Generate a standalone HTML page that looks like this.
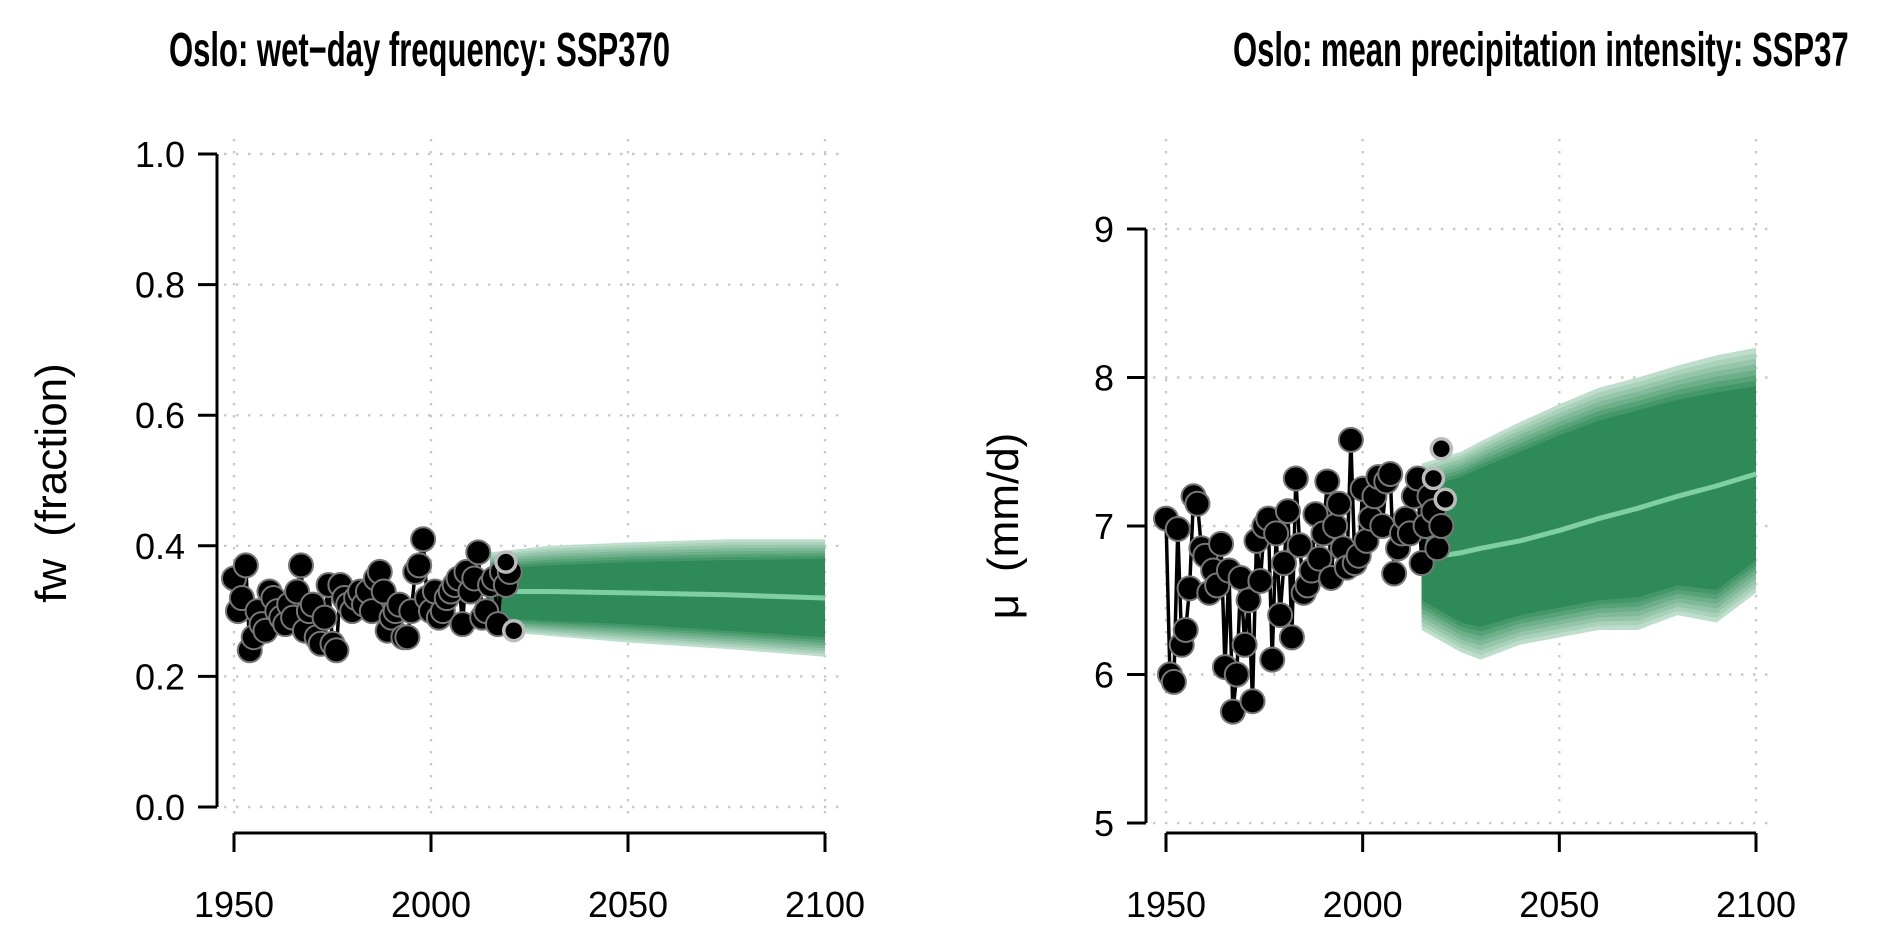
<!DOCTYPE html>
<html><head><meta charset="utf-8"><style>
html,body{margin:0;padding:0;background:#fff;overflow:hidden}
svg text{font-family:"Liberation Sans",Arial,sans-serif}
</style></head><body>
<svg id="c" width="1892" height="933" viewBox="0 0 1892 933" xmlns="http://www.w3.org/2000/svg">
<text id="t1" x="169" y="66" font-size="48" font-weight="bold">Oslo: wet−day frequency: SSP370</text>
<text id="t2" x="1233" y="66" font-size="48" font-weight="bold">Oslo: mean precipitation intensity: SSP37</text>
<g id="left"></g>
<g id="right"></g>
</svg>
<script>
const obsYears=[];for(let y=1950;y<=2020;y++)obsYears.push(y);
const fwObs=[0.35,0.30,0.32,0.37,0.24,0.26,0.30,0.28,0.27,0.33,0.32,0.30,0.29,0.28,0.31,0.29,0.33,0.37,0.27,0.30,0.31,0.26,0.25,0.29,0.34,0.25,0.24,0.34,0.32,0.31,0.30,0.32,0.33,0.31,0.33,0.30,0.35,0.36,0.33,0.27,0.29,0.30,0.31,0.26,0.26,0.30,0.36,0.37,0.41,0.32,0.30,0.33,0.29,0.30,0.32,0.33,0.34,0.35,0.28,0.36,0.33,0.35,0.39,0.29,0.30,0.34,0.35,0.28,0.36,0.34,0.36];
const fwHiYears=[2019,2021];
const fwHiVals=[0.375,0.27];
const muObs=[7.05,6.0,5.95,6.98,6.2,6.3,6.58,7.2,7.15,6.85,6.8,6.55,6.7,6.6,6.88,6.05,6.7,5.75,6.0,6.65,6.2,6.5,5.82,6.9,6.63,7.0,7.05,6.1,6.95,6.4,6.75,7.1,6.25,7.32,6.87,6.55,6.6,6.7,7.08,6.78,6.95,7.3,6.65,7.0,7.15,6.85,6.72,7.58,6.75,6.8,7.25,6.9,7.05,7.2,7.33,7.0,7.3,7.35,6.68,6.85,6.95,7.05,6.95,7.2,7.32,6.75,7.0,7.2,7.1,6.85,7.0];
const muHiYears=[2018,2020,2021];
const muHiVals=[7.32,7.52,7.18];
const fwProjYears=[2015,2030,2050,2075,2100];
const fwOuterLo=[0.27,0.262,0.252,0.242,0.23];
const fwOuterHi=[0.39,0.40,0.405,0.41,0.41];
const fwInnerLo=[0.29,0.285,0.28,0.27,0.26];
const fwInnerHi=[0.365,0.37,0.375,0.378,0.38];
const fwMedian=[0.33,0.33,0.328,0.325,0.32];
const muProjYears=[2015,2025,2030,2040,2050,2060,2070,2080,2090,2100];
const muOuterLo=[6.3,6.15,6.1,6.2,6.25,6.3,6.3,6.4,6.35,6.55];
const muOuterHi=[7.42,7.5,7.57,7.7,7.82,7.93,8.0,8.08,8.15,8.2];
const muInnerLo=[6.5,6.35,6.32,6.4,6.45,6.5,6.52,6.6,6.57,6.77];
const muInnerHi=[7.25,7.33,7.39,7.5,7.61,7.71,7.78,7.85,7.9,7.94];
const muMedian=[6.78,6.82,6.85,6.9,6.97,7.05,7.12,7.2,7.27,7.35];
const fwTicks=[0.0,0.2,0.4,0.6,0.8,1.0];
const fwTickLabels=["0.0","0.2","0.4","0.6","0.8","1.0"];
const muTicks=[5,6,7,8,9];
const muTickLabels=["5","6","7","8","9"];
const xTicks=[1950,2000,2050,2100];
const xTickLabels=["1950","2000","2050","2100"];

const NS="http://www.w3.org/2000/svg";
function mk(p,t,a){const e=document.createElementNS(NS,t);for(const k in a)e.setAttribute(k,a[k]);p.appendChild(e);return e;}
const t1=document.getElementById('t1'),t2=document.getElementById('t2');
const ratio=501/t1.getComputedTextLength();
t1.setAttribute('textLength',501);t1.setAttribute('lengthAdjust','spacingAndGlyphs');
t2.setAttribute('textLength',t2.getComputedTextLength()*ratio);t2.setAttribute('lengthAdjust','spacingAndGlyphs');

function panel(g,cfg){
  const X=v=>cfg.x0+(v-1950)/150*(cfg.x1-cfg.x0);
  const Y=v=>cfg.yb+(v-cfg.ymin)/(cfg.ymax-cfg.ymin)*(cfg.yt-cfg.yb);
  const AXY=833;
  xTicks.forEach(t=>{const l=mk(g,'line',{x1:X(t),x2:X(t),y1:139,y2:AXY-10,stroke:'#c8c8c8','stroke-width':2.4,'stroke-dasharray':'2.4 9.6'});
    });
  cfg.yt_.forEach(t=>{const l=mk(g,'line',{x1:cfg.ax+7,x2:cfg.x1+17,y1:Y(t),y2:Y(t),stroke:'#c8c8c8','stroke-width':2.4,'stroke-dasharray':'2.4 9.6'});
    });
  const nL=8;
  for(let k=0;k<nL;k++){
    const f=k/(nL-1);
    const lo=cfg.py.map((_,i)=>cfg.oLo[i]+(cfg.iLo[i]-cfg.oLo[i])*f);
    const hi=cfg.py.map((_,i)=>cfg.oHi[i]+(cfg.iHi[i]-cfg.oHi[i])*f);
    let d='M'+cfg.py.map((y,i)=>X(y)+','+Y(hi[i])).join('L')+'L'+cfg.py.map((y,i)=>X(y)+','+Y(lo[i])).reverse().join('L')+'Z';
    const c=f;
    const r=Math.round(190+(46-190)*c),gg=Math.round(222+(139-222)*c),b=Math.round(204+(87-204)*c);
    const p=mk(g,'path',{d:d,fill:`rgb(${r},${gg},${b})`});
    
  }
  const m=mk(g,'polyline',{points:cfg.py.map((y,i)=>X(y)+','+Y(cfg.med[i])).join(' '),fill:'none',stroke:'#7fcfa2','stroke-width':5});
  
  const ol=mk(g,'polyline',{points:obsYears.map((y,i)=>X(y)+','+Y(cfg.obs[i])).join(' '),fill:'none',stroke:'#000','stroke-width':3.5});
  
  obsYears.forEach((y,i)=>{const c=mk(g,'circle',{cx:X(y),cy:Y(cfg.obs[i]),r:12,fill:'#000',stroke:'#777','stroke-width':2});
    });
  cfg.hy.forEach((y,i)=>{const c=mk(g,'circle',{cx:X(y),cy:Y(cfg.hv[i]),r:10,fill:'#000',stroke:'#bbb','stroke-width':3.5});
    });
  const ya=mk(g,'line',{x1:cfg.ax,x2:cfg.ax,y1:Y(cfg.ymax),y2:Y(cfg.ymin),stroke:'#000','stroke-width':3});
  
  cfg.yt_.forEach((t,i)=>{const l=mk(g,'line',{x1:cfg.ax-19,x2:cfg.ax,y1:Y(t),y2:Y(t),stroke:'#000','stroke-width':3});
    
    const tx=mk(g,'text',{x:cfg.ax-32,y:Y(t)+13,'font-size':36,'text-anchor':'end'});tx.textContent=cfg.ytl[i];
    });
  const xa=mk(g,'line',{x1:X(1950),x2:X(2100),y1:AXY,y2:AXY,stroke:'#000','stroke-width':3});
  
  xTicks.forEach((t,i)=>{const l=mk(g,'line',{x1:X(t),x2:X(t),y1:AXY,y2:AXY+19,stroke:'#000','stroke-width':3});
    
    const tx=mk(g,'text',{x:X(t),y:917,'font-size':36,'text-anchor':'middle'});tx.textContent=xTickLabels[i];
    });
  const yl=mk(g,'text',{x:cfg.labX,y:cfg.labY,'font-size':44,'text-anchor':'middle','xml:space':'preserve',transform:`rotate(-90 ${cfg.labX} ${cfg.labY})`});
  yl.textContent=cfg.lab;
}
panel(document.getElementById('left'),{x0:234,x1:825,ax:217,ymin:0,ymax:1,yb:807,yt:154,
  yt_:fwTicks,ytl:fwTickLabels,obs:fwObs,hy:fwHiYears,hv:fwHiVals,py:fwProjYears,oLo:fwOuterLo,oHi:fwOuterHi,iLo:fwInnerLo,iHi:fwInnerHi,med:fwMedian,
  lab:'fw\u2002(fraction)',labX:66,labY:483});
panel(document.getElementById('right'),{x0:1166,x1:1756,ax:1146,ymin:5,ymax:9,yb:823,yt:229,
  yt_:muTicks,ytl:muTickLabels,obs:muObs,hy:muHiYears,hv:muHiVals,py:muProjYears,oLo:muOuterLo,oHi:muOuterHi,iLo:muInnerLo,iHi:muInnerHi,med:muMedian,
  lab:'μ\u2002(mm/d)',labX:1018,labY:526});
</script>
</body></html>
